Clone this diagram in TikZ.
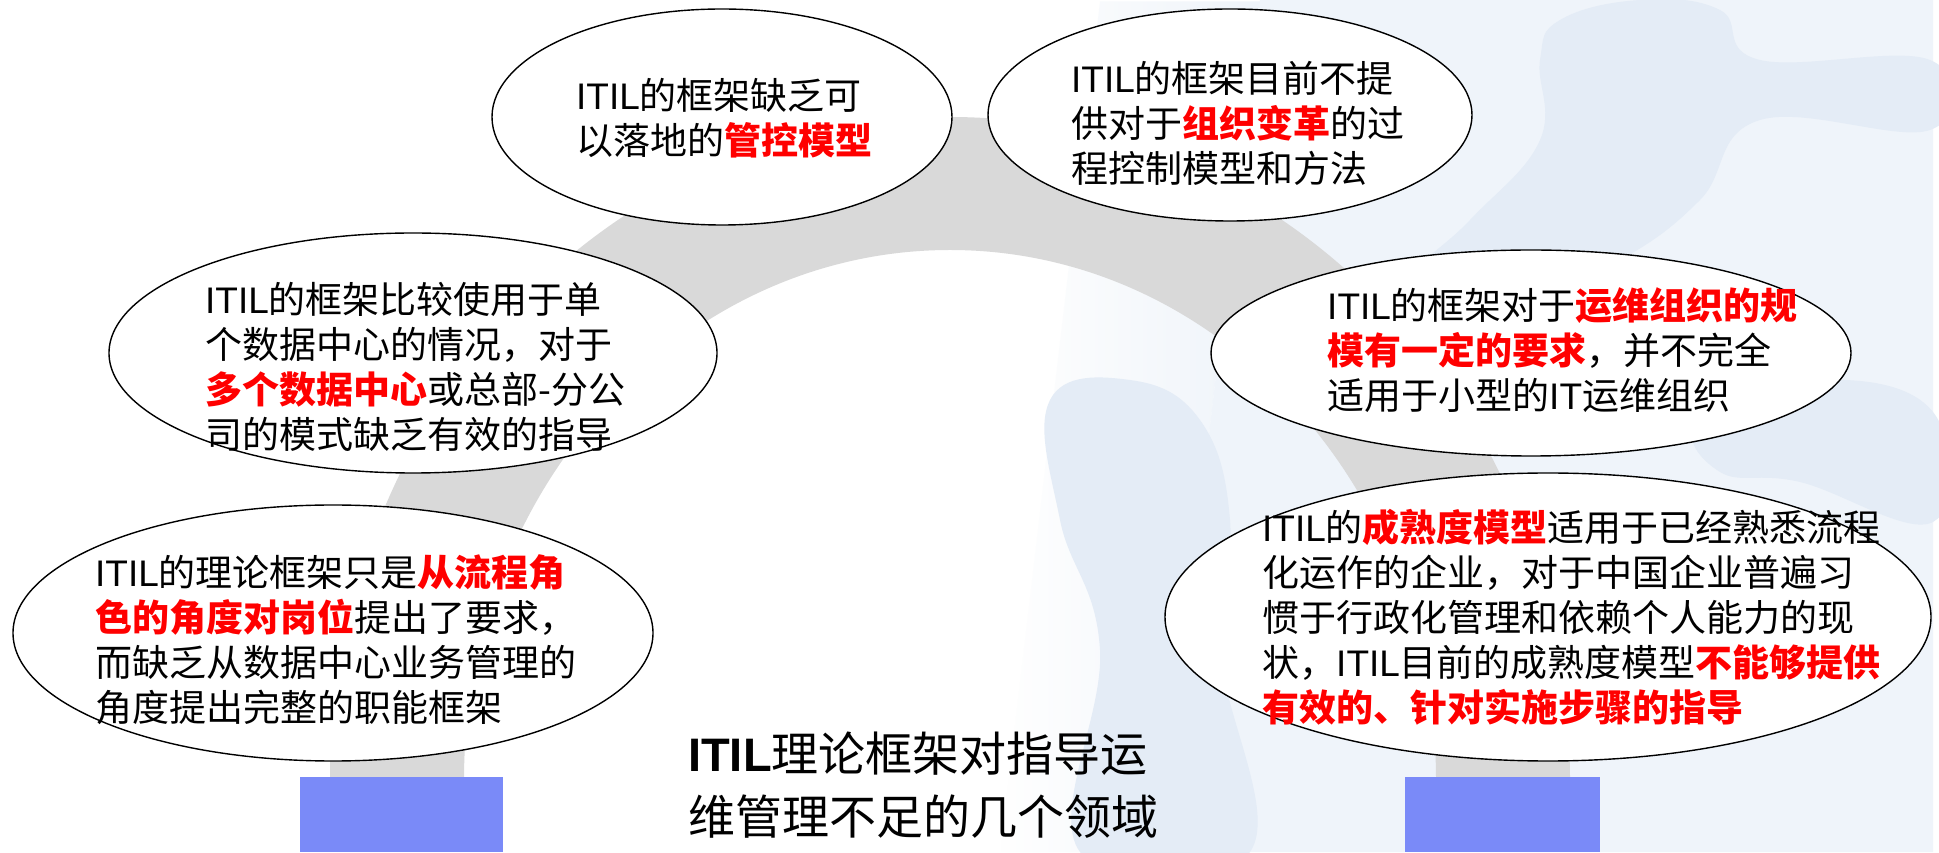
\documentclass[tikz,border=0pt]{standalone}
\usepackage{fontspec}
\setmainfont{Noto Sans CJK SC}
\newfontfamily\latinfont{Liberation Sans}
\usetikzlibrary{shapes.geometric,fadings}

\definecolor{archgray}{RGB}{217,217,217}
\definecolor{pillarblue}{RGB}{122,138,248}
\definecolor{hotred}{RGB}{255,0,0}
\definecolor{washblue}{RGB}{239,244,250}
\definecolor{shadeblue}{RGB}{228,236,246}

\newcommand\itil{{\latinfont ITIL}}
\newcommand\hot[1]{\textcolor{hotred}{\bfseries #1}}

\tikzset{
  bubble/.style={ellipse, draw=black, line width=1.4pt, fill=white, inner sep=0pt},
  bubbletext/.style={anchor=west, align=left, inner sep=0pt,
    font=\fontsize{37}{45}\selectfont},
  titletext/.style={anchor=west, align=left, inner sep=0pt,
    font=\fontsize{47}{63}\selectfont},
  pillar/.style={fill=pillarblue, draw=none},
  shadow figure/.style={fill=shadeblue, draw=none},
}

\begin{document}
\begin{tikzpicture}[x=1pt,y=1pt]
  \useasboundingbox (0,0) rectangle (1939,852);
  \fill[white] (0,0) rectangle (1939,852);

  % faint watermark of figures on the right
  \fill[washblue, path fading=west] (1000,0) -- (1100,852) -- (1260,852) -- (1160,0) -- cycle;
  \fill[washblue] (1160,0) -- (1260,852) -- (1933,852) -- (1933,0) -- cycle;
  \fill[shadow figure] plot[smooth cycle, tension=0.7] coordinates {
     (1560,832) (1640,852) (1720,842) (1760,792) (1930,792) (1930,722)
     (1760,732) (1700,652) (1620,592) (1520,552) (1440,522) (1400,562)
     (1470,632) (1540,712) (1540,792)};
  \fill[shadow figure] plot[smooth cycle, tension=0.7] coordinates {
     (1050,452) (1130,472) (1200,432) (1230,332) (1220,202) (1250,0)
     (1080,0) (1100,202) (1060,332)};
  \fill[shadow figure] plot[smooth cycle, tension=0.7] coordinates {
     (1700,432) (1820,472) (1933,440) (1933,330) (1800,370) (1720,380)};

  % grey arch behind the bubbles
  \fill[archgray] (330,20) -- (330,72)
     arc[start angle=180, end angle=0, x radius=620, y radius=663]
     -- (1570,20) -- (1436,20) -- (1436,72)
     arc[start angle=0, end angle=180, x radius=486, y radius=530]
     -- (464,20) -- cycle;

  % pillars
  \fill[pillar] (300,0) rectangle (503,75);
  \fill[pillar] (1405,0) rectangle (1600,75);

  % bubbles
  \node[bubble, minimum width=460, minimum height=216] (a) at (722,735) {};
  \node[bubble, minimum width=484, minimum height=212] (b) at (1230,737) {};
  \node[bubble, minimum width=608, minimum height=240] (c) at (413,499) {};
  \node[bubble, minimum width=640, minimum height=206] (d) at (1531,499) {};
  \node[bubble, minimum width=640, minimum height=256] (e) at (333,219) {};
  \node[bubble, minimum width=766, minimum height=288] (f) at (1548,235) {};

  % bubble texts
  \node[bubbletext] (ta) at (576,734)
    {\itil 的框架缺乏可\\以落地的\hot{管控模型}};
  \node[bubbletext] (tb) at (1071,729)
    {\itil 的框架目前不提\\供对于\hot{组织变革}的过\\程控制模型和方法};
  \node[bubbletext] (tc) at (205,485)
    {\itil 的框架比较使用于单\\个数据中心的情况，对于\\\hot{多个数据中心}或总部-分公\\司的模式缺乏有效的指导};
  \node[bubbletext] (td) at (1327,502)
    {\itil 的框架对于\hot{运维组织的规}\\\hot{模有一定的要求}，并不完全\\适用于小型的{\latinfont IT}运维组织};
  \node[bubbletext] (te) at (95,212)
    {\itil 的理论框架只是\hot{从流程角}\\\hot{色的角度对岗位}提出了要求，\\而缺乏从数据中心业务管理的\\角度提出完整的职能框架};
  \node[bubbletext] (tf) at (1262,235)
    {\itil 的\hot{成熟度模型}适用于已经熟悉流程\\化运作的企业，对于中国企业普遍习\\惯于行政化管理和依赖个人能力的现\\状，\itil 目前的成熟度模型\hot{不能够提供}\\\hot{有效的、针对实施步骤的指导}};

  % caption
  \node[titletext] (title) at (688,67)
    {{\latinfont\bfseries ITIL}理论框架对指导运\\维管理不足的几个领域};
\end{tikzpicture}
\end{document}
